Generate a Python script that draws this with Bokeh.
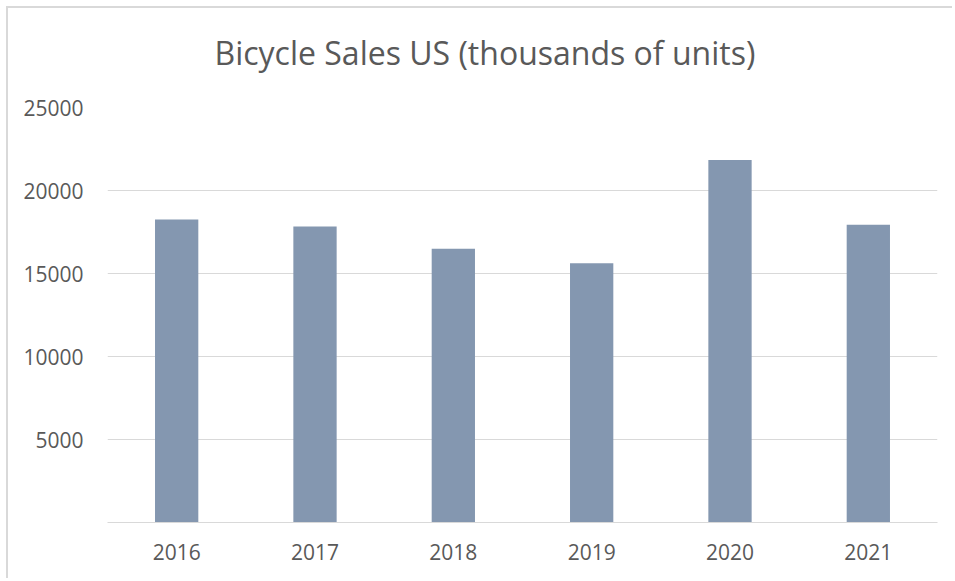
from bokeh.plotting import figure
from bokeh.models import FixedTicker, Range1d, FactorRange, Title
from bokeh.embed import file_html
from bokeh.resources import INLINE

years = ["2016", "2017", "2018", "2019", "2020", "2021"]
sales = [18250, 17830, 16490, 15620, 21830, 17940]
y_ticks = [5000, 10000, 15000, 20000, 25000]
title_text = "Bicycle Sales US (thousands of units)"

TEXT = "#595959"
GRID = "#d9d9d9"
BAR = "#8497b0"

p = figure(
    width=946, height=572,
    x_range=FactorRange(*years, range_padding=0),
    y_range=Range1d(0, 25000),
    output_backend="svg", toolbar_location=None,
    min_border_left=99, min_border_right=17,
    min_border_top=0, min_border_bottom=58,
)
p.styles = {
    "margin-left": "6px", "margin-top": "6px",
    "border-left": "2px solid #d9d9d9", "border-top": "2px solid #d9d9d9",
}

p.vbar(x=years, top=sales, width=0.313, color=BAR, line_color=None)

# spacer between title and plot frame
spacer = Title(text=" ", text_font_size="1px", standoff=11)
p.add_layout(spacer, "above")

main_title = Title(
    text=title_text,
    text_font="Open Sans",
    text_font_size="32px",
    text_font_style="normal",
    text_color=TEXT,
    align="left",
    offset=107,
    standoff=40,
)
p.add_layout(main_title, "above")

p.outline_line_color = None
p.background_fill_color = "white"
p.border_fill_color = "white"

p.xgrid.grid_line_color = None
p.ygrid.grid_line_color = GRID
p.ygrid.grid_line_width = 1
p.yaxis.ticker = FixedTicker(ticks=y_ticks)

for ax in (p.xaxis, p.yaxis):
    ax.major_tick_line_color = None
    ax.minor_tick_line_color = None
    ax.major_label_text_font = "Open Sans"
    ax.major_label_text_font_size = "21px"
    ax.major_label_text_color = TEXT

p.yaxis.axis_line_color = None
p.yaxis.major_label_standoff = 18
p.xaxis.axis_line_color = GRID
p.xaxis.axis_line_width = 1
p.xaxis.major_label_standoff = 15

open("out.html", "w").write(file_html(p, INLINE))
